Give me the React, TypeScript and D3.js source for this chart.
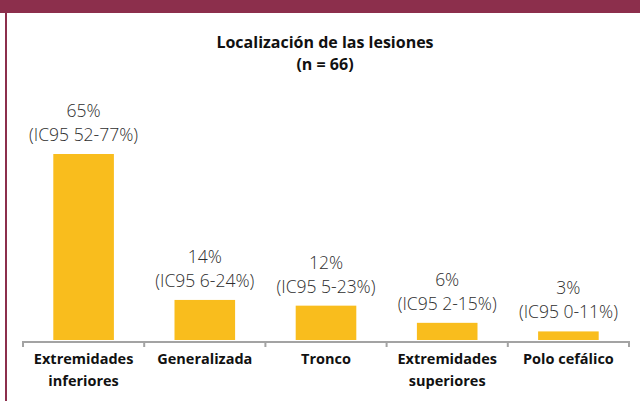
import React, { useEffect, useRef } from "react";
import * as d3 from "d3";

const categories = [
  ["Extremidades", "inferiores"],
  ["Generalizada"],
  ["Tronco"],
  ["Extremidades", "superiores"],
  ["Polo cefálico"],
];
const percents = [65, 14, 12, 6, 3];
const ciLabels = ["(IC95 52-77%)", "(IC95 6-24%)", "(IC95 5-23%)", "(IC95 2-15%)", "(IC95 0-11%)"];
const titleLines = ["Localización de las lesiones", "(n = 66)"];

const App = () => {
  const svgRef = useRef<SVGSVGElement>(null);

  useEffect(() => {
    const svg = d3.select(svgRef.current);
    svg.selectAll("*").remove();

    const width = 640;
    const height = 401;
    const maroon = "#8c2f4c";
    const font = "'Open Sans', 'Noto Sans', sans-serif";
    const baseY = 341;

    // frame: top band + left edge
    svg.append("rect").attr("x", 0).attr("y", 0).attr("width", width).attr("height", 13).attr("fill", maroon);
    svg.append("rect").attr("x", 5).attr("y", 0).attr("width", 2).attr("height", height).attr("fill", maroon);

    svg.append("g")
      .selectAll("text")
      .data(titleLines)
      .enter()
      .append("text")
      .attr("x", 325)
      .attr("y", (d, i) => 48 + i * 22)
      .attr("text-anchor", "middle")
      .attr("font-family", font)
      .attr("font-weight", 700)
      .attr("font-size", "16px")
      .attr("fill", "#111")
      .text(d => d);

    const idx = d3.range(categories.length);
    const x = d3.scaleBand<number>()
      .domain(idx)
      .range([23, 629])
      .paddingInner(0.5)
      .paddingOuter(0.25);

    const y = d3.scaleLinear()
      .domain([0, 65])
      .range([baseY - 1, 154]);

    svg.append("g")
      .selectAll("rect")
      .data(idx)
      .enter()
      .append("rect")
      .attr("x", i => x(i)!)
      .attr("y", i => y(percents[i]))
      .attr("width", x.bandwidth())
      .attr("height", i => y(0) - y(percents[i]))
      .attr("fill", "#f9bd1d");

    // axis line with separators between categories
    const axis = svg.append("g").attr("stroke", "#a3a3a3").attr("stroke-width", 2);
    axis.append("line").attr("x1", 22).attr("x2", 630).attr("y1", baseY + 1).attr("y2", baseY + 1);
    const step = x.step();
    const seps = idx.map(i => x(i)! - (step - x.bandwidth()) / 2).concat([629]);
    axis.selectAll("line.tick")
      .data(seps)
      .enter()
      .append("line")
      .attr("class", "tick")
      .attr("x1", d => d)
      .attr("x2", d => d)
      .attr("y1", baseY)
      .attr("y2", baseY + 6);

    const labels = svg.append("g")
      .attr("font-family", font)
      .attr("font-weight", 300)
      .attr("font-size", "17.5px")
      .attr("fill", "#2e2e2e")
      .attr("text-anchor", "middle");

    labels.selectAll("text.pct")
      .data(idx)
      .enter()
      .append("text")
      .attr("class", "pct")
      .attr("x", i => x(i)! + x.bandwidth() / 2)
      .attr("y", i => y(percents[i]) - 37)
      .text(i => `${percents[i]}%`);

    labels.selectAll("text.ci")
      .data(idx)
      .enter()
      .append("text")
      .attr("class", "ci")
      .attr("x", i => x(i)! + x.bandwidth() / 2)
      .attr("y", i => y(percents[i]) - 13)
      .text(i => ciLabels[i]);

    const cats = svg.append("g")
      .attr("font-family", font)
      .attr("font-weight", 700)
      .attr("font-size", "14.5px")
      .attr("fill", "#111")
      .attr("text-anchor", "middle");

    idx.forEach(i => {
      cats.append("g")
        .selectAll("text")
        .data(categories[i])
        .enter()
        .append("text")
        .attr("x", x(i)! + x.bandwidth() / 2)
        .attr("y", (d, j) => 364 + j * 22)
        .text(d => d);
    });
  }, []);

  return (
    <svg
      ref={svgRef}
      width={640}
      height={401}
      style={{ position: "absolute", left: 0, top: 0, background: "#fff" }}
    />
  );
};

export default App;
